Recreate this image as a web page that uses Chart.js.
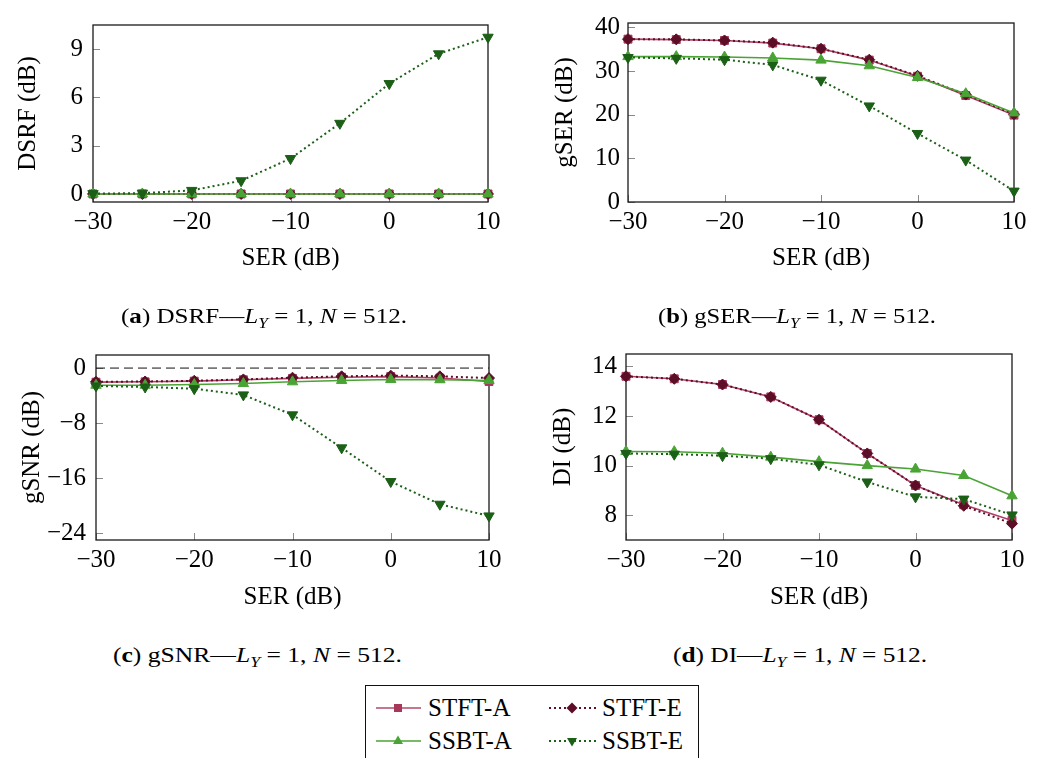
<!DOCTYPE html>
<html><head><meta charset="utf-8">
<script src="https://cdn.jsdelivr.net/npm/chart.js@4.4.0/dist/chart.umd.min.js"></script>
<style>
html,body{margin:0;padding:0;background:#fff;}
#root{position:relative;width:1053px;height:758px;overflow:hidden;font-family:"Liberation Serif","Times New Roman",serif;color:#000;}
canvas{position:absolute;}
.cap{position:absolute;white-space:nowrap;font-size:22px;line-height:22px;transform-origin:left center;}
.cap sub{font-size:70%;vertical-align:-0.3em;line-height:0;}
.legend{position:absolute;left:365px;top:685px;width:334px;height:90px;border:1.4px solid #111;box-sizing:border-box;}
.legend svg{position:absolute;left:0;top:0;}
.lt{position:absolute;font-size:25px;line-height:30px;white-space:nowrap;}
</style></head><body>
<div id="root">
<canvas id="ca" width="520" height="290" style="left:0;top:0"></canvas>
<canvas id="cb" width="533" height="290" style="left:520px;top:0"></canvas>
<canvas id="cc" width="520" height="290" style="left:0;top:330px"></canvas>
<canvas id="cd" width="533" height="290" style="left:520px;top:330px"></canvas>

<div class="cap" data-w="286" style="left:121px;top:305px">(<b>a</b>) DSRF—<i>L<sub>Y</sub></i> = 1, <i>N</i> = 512.</div>
<div class="cap" data-w="278" style="left:658px;top:305px">(<b>b</b>) gSER—<i>L<sub>Y</sub></i> = 1, <i>N</i> = 512.</div>
<div class="cap" data-w="289" style="left:113px;top:644px">(<b>c</b>) gSNR—<i>L<sub>Y</sub></i> = 1, <i>N</i> = 512.</div>
<div class="cap" data-w="254" style="left:673px;top:644px">(<b>d</b>) DI—<i>L<sub>Y</sub></i> = 1, <i>N</i> = 512.</div>

<div class="legend">
  <svg width="334" height="90">
    <line x1="10" y1="22" x2="55" y2="22" stroke="#b5496b" stroke-width="1.6"/>
    <rect x="28" y="18" width="8" height="8" fill="#a8375a"/>
    <line x1="183" y1="22" x2="230" y2="22" stroke="#5c0e27" stroke-width="2" stroke-dasharray="2,3"/>
    <polygon points="206,16.5 211.5,22 206,27.5 200.5,22" fill="#5c0e27"/>
    <line x1="10" y1="55" x2="55" y2="55" stroke="#4aa335" stroke-width="1.6"/>
    <polygon points="32,49.5 37,58 27,58" fill="#4aa335"/>
    <line x1="183" y1="55" x2="230" y2="55" stroke="#1c5f17" stroke-width="2" stroke-dasharray="2,3"/>
    <polygon points="206,60.5 211,52 201,52" fill="#1c5f17"/>
  </svg>
  <div class="lt" style="left:62px;top:7px">STFT-A</div>
  <div class="lt" style="left:236px;top:7px">STFT-E</div>
  <div class="lt" style="left:62px;top:40px">SSBT-A</div>
  <div class="lt" style="left:236px;top:40px">SSBT-E</div>
</div>
</div>

<script>
// ---- data ----
const serDb = [-30, -25, -20, -15, -10, -5, 0, 5, 10];
const xTicks = [-30, -20, -10, 0, 10];
const seriesNames = ['STFT-A', 'STFT-E', 'SSBT-A', 'SSBT-E'];

// (a) DSRF
const dsrfStftA = [0, 0, 0, 0, 0, 0, 0, 0, 0];
const dsrfStftE = [0, 0, 0, 0, 0, 0, 0, 0, 0];
const dsrfSsbtA = [0, 0, 0, 0, 0, 0, 0, 0, 0];
const dsrfSsbtE = [0.02, 0.05, 0.22, 0.82, 2.2, 4.39, 6.86, 8.71, 9.74];
const dsrfTicks = [0, 3, 6, 9];

// (b) gSER
const gserStftA = [37.3, 37.2, 37.0, 36.4, 35.1, 32.5, 28.8, 24.4, 19.9];
const gserStftE = [37.3, 37.25, 37.0, 36.5, 35.1, 32.6, 28.9, 24.6, 20.1];
const gserSsbtA = [33.3, 33.3, 33.2, 33.0, 32.5, 31.2, 28.5, 24.8, 20.4];
const gserSsbtE = [33.1, 32.9, 32.6, 31.4, 27.9, 22.0, 15.7, 9.6, 2.5];
const gserTicks = [0, 10, 20, 30, 40];

// (c) gSNR
const gsnrStftA = [-2.05, -2.0, -1.9, -1.7, -1.5, -1.33, -1.24, -1.45, -1.95];
const gsnrStftE = [-2.0, -1.95, -1.85, -1.65, -1.4, -1.2, -1.1, -1.2, -1.45];
const gsnrSsbtA = [-2.5, -2.5, -2.4, -2.25, -2.0, -1.8, -1.67, -1.7, -1.8];
const gsnrSsbtE = [-2.6, -2.75, -3.0, -3.9, -6.8, -11.6, -16.5, -19.8, -21.5];
const gsnrTicks = [-24, -16, -8, 0];
const gsnrRefX = [-30, 10];
const gsnrRefY = [0, 0];

// (d) DI
const diStftA = [13.6, 13.5, 13.27, 12.77, 11.85, 10.49, 9.2, 8.42, 7.79];
const diStftE = [13.6, 13.5, 13.27, 12.77, 11.85, 10.49, 9.2, 8.38, 7.66];
const diSsbtA = [10.57, 10.56, 10.5, 10.34, 10.16, 10.0, 9.86, 9.6, 8.78];
const diSsbtE = [10.49, 10.46, 10.4, 10.28, 10.03, 9.34, 8.74, 8.65, 8.01];
const diTicks = [8, 10, 12, 14];

// ---- styling ----
const styles = [
  {color: '#b03f63', mark: '#a8375a', dash: [], width: 1.6, pointStyle: 'rect', radius: 5.6, rot: 0, order: 3},
  {color: '#5c0e27', mark: '#5c0e27', dash: [2, 3], width: 2, pointStyle: 'rectRot', radius: 5.5, rot: 0, order: 2},
  {color: '#4aa335', mark: '#4aa335', dash: [], width: 1.6, pointStyle: 'triangle', radius: 6, rot: 0, order: 1},
  {color: '#1c5f17', mark: '#1c5f17', dash: [2, 3], width: 2, pointStyle: 'triangle', radius: 6, rot: 180, order: 0}
];

Chart.defaults.font.family = "'Liberation Serif', 'Times New Roman', serif";
Chart.defaults.font.size = 25;
Chart.defaults.color = '#000';

const fmt = v => (v < 0 ? '\u2212' + Math.abs(v) : String(v));

const framePlugin = {
  id: 'frame',
  beforeDatasetsDraw(chart) {
    const {ctx, chartArea: a, scales} = chart;
    ctx.save();
    ctx.strokeStyle = '#8a8a8a';
    ctx.lineWidth = 1;
    ctx.beginPath();
    scales.x.ticks.forEach(t => {
      const px = Math.round(scales.x.getPixelForValue(t.value)) + 0.5;
      ctx.moveTo(px, a.bottom); ctx.lineTo(px, a.bottom - 7);
    });
    scales.y.ticks.forEach(t => {
      const py = Math.round(scales.y.getPixelForValue(t.value)) + 0.5;
      ctx.moveTo(a.left, py); ctx.lineTo(a.left + 7, py);
    });
    ctx.stroke();
    ctx.strokeStyle = '#1a1a1a';
    ctx.lineWidth = 1.3;
    ctx.strokeRect(a.left, a.top, a.right - a.left, a.bottom - a.top);
    ctx.restore();
  }
};

function buildDatasets(seriesList) {
  return seriesList.map((vals, i) => {
    const s = styles[i];
    return {
      label: seriesNames[i],
      data: serDb.map((x, k) => ({x: x, y: vals[k]})),
      borderColor: s.color,
      borderWidth: s.width,
      borderDash: s.dash,
      backgroundColor: s.mark,
      pointBackgroundColor: s.mark,
      pointBorderColor: s.mark,
      pointBorderWidth: 1,
      pointStyle: s.pointStyle,
      pointRadius: s.radius,
      pointRotation: s.rot,
      tension: 0,
      fill: false,
      clip: false,
      order: s.order
    };
  });
}

function makeChart(id, seriesList, yTitle, yMin, yMax, yTicks, lay, extra) {
  const datasets = buildDatasets(seriesList).concat(extra || []);
  new Chart(document.getElementById(id), {
    type: 'line',
    data: {datasets: datasets},
    options: {
      responsive: false, animation: false, devicePixelRatio: 1,
      layout: {padding: {top: lay.top, right: lay.right, left: 0, bottom: 0}},
      plugins: {legend: {display: false}, tooltip: {enabled: false}},
      scales: {
        x: {
          type: 'linear', min: -30, max: 10, position: 'bottom',
          afterBuildTicks: s => { s.ticks = xTicks.map(v => ({value: v})); },
          afterFit: s => { s.height = lay.xh; },
          grid: {display: false, drawTicks: false}, border: {display: false},
          ticks: {padding: lay.xtp, callback: fmt, maxRotation: 0, autoSkip: false},
          title: {display: true, text: 'SER (dB)', padding: {top: 0, bottom: lay.xtb}}
        },
        y: {
          type: 'linear', min: yMin, max: yMax, position: 'left',
          afterBuildTicks: s => { s.ticks = yTicks.map(v => ({value: v})); },
          afterFit: s => { s.width = lay.yw; },
          grid: {display: false, drawTicks: false}, border: {display: false},
          ticks: {padding: lay.ytp, callback: fmt, autoSkip: false},
          title: {display: true, text: yTitle, padding: {top: lay.ytt, bottom: 0}}
        }
      }
    },
    plugins: [framePlugin]
  });
}

makeChart('ca', [dsrfStftA, dsrfStftE, dsrfSsbtA, dsrfSsbtE], 'DSRF (dB)', -0.5, 10.5, dsrfTicks,
  {top: 14, right: 32, xh: 88, yw: 93, xtp: 5, xtb: 17, ytp: 10, ytt: 13});
makeChart('cb', [gserStftA, gserStftE, gserSsbtA, gserSsbtE], 'gSER (dB)', 0, 41, gserTicks,
  {top: 14, right: 39, xh: 88, yw: 108, xtp: 5, xtb: 17, ytp: 8, ytt: 30});
makeChart('cc', [gsnrStftA, gsnrStftE, gsnrSsbtA, gsnrSsbtE], 'gSNR (dB)', -25, 1.9, gsnrTicks,
  {top: 22, right: 31, xh: 80, yw: 96, xtp: 5, xtb: 8, ytp: 10, ytt: 17},
  [{label: 'ref', data: gsnrRefX.map((x, k) => ({x: x, y: gsnrRefY[k]})), borderColor: '#111',
    borderWidth: 1, borderDash: [9, 5], pointRadius: 0, fill: false, order: 10}]);
makeChart('cd', [diStftA, diStftE, diSsbtA, diSsbtE], 'DI (dB)', 7, 14.5, diTicks,
  {top: 22, right: 41, xh: 80, yw: 106, xtp: 5, xtb: 8, ytp: 9, ytt: 28});

document.querySelectorAll('.cap').forEach(el => {
  const w = el.getBoundingClientRect().width;
  el.style.transform = 'scaleX(' + (+el.dataset.w / w) + ')';
});
</script>
</body></html>
